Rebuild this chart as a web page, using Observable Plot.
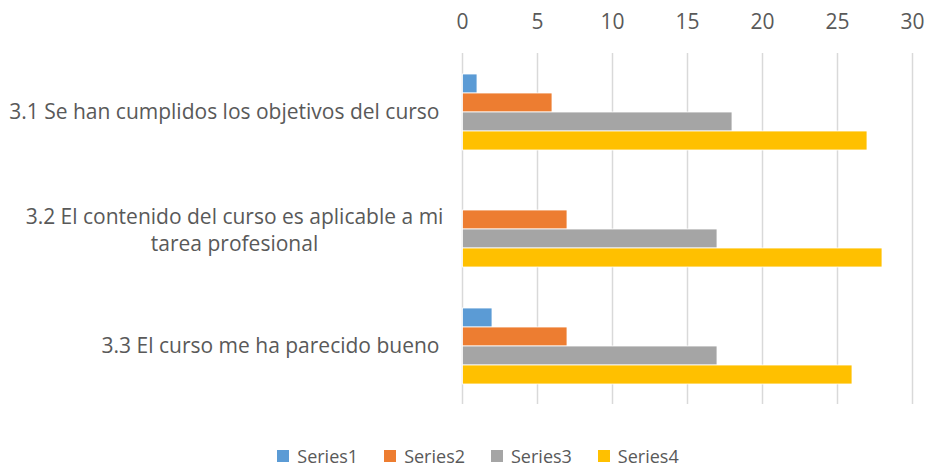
<!DOCTYPE html>
<html>
<head>
<meta charset="utf-8">
<script src="https://cdn.jsdelivr.net/npm/d3@7"></script>
<script src="https://cdn.jsdelivr.net/npm/@observablehq/plot@0.6"></script>
<style>
  html, body { margin: 0; padding: 0; background: #fff; }
  #chart { width: 930px; }
  .legend { display: flex; justify-content: center; align-items: center; font-family: "Open Sans", sans-serif; font-size: 18px; color: #595959; height: 50px; margin-top: 11px; padding-left: 26px; }
  .legend .item { display: flex; align-items: center; margin: 0 13px; }
  .legend .sw { width: 12px; height: 12px; margin-right: 8px; }
</style>
</head>
<body>
<div id="chart"></div>
<script>
const categories = [
  "3.1 Se han cumplidos los objetivos del curso",
  "3.2 El contenido del curso es aplicable a mi tarea profesional",
  "3.3 El curso me ha parecido bueno"
];
const categoryLines = [
  ["3.1 Se han cumplidos los objetivos del curso"],
  ["3.2 El contenido del curso es aplicable a mi", "tarea profesional"],
  ["3.3 El curso me ha parecido bueno"]
];
const seriesNames = ["Series1", "Series2", "Series3", "Series4"];
const colors = ["#5B9BD5", "#ED7D31", "#A5A5A5", "#FFC000"];
const series1 = [1, 0, 2];
const series2 = [6, 7, 7];
const series3 = [18, 17, 17];
const series4 = [27, 28, 26];
const xTicks = [0, 5, 10, 15, 20, 25, 30];

const allSeries = [series1, series2, series3, series4];
const rows = [];
categories.forEach((c, i) => {
  seriesNames.forEach((s, j) => rows.push({category: c, series: s, value: allSeries[j][i]}));
});
const labelRows = categories.map((c, i) => ({category: c, text: categoryLines[i].join("\n"), multi: categoryLines[i].length > 1}));

const plot = Plot.plot({
  width: 930,
  height: 420,
  marginTop: 52,
  marginBottom: 15,
  marginLeft: 462,
  marginRight: 18,
  style: {fontFamily: "'Open Sans', sans-serif", fontSize: "21px", color: "#595959", background: "#fff"},
  x: {domain: [0, 30], ticks: xTicks, axis: null},
  y: {domain: seriesNames, paddingInner: 0, paddingOuter: 0.95, axis: null},
  fy: {domain: categories, padding: 0, axis: null},
  color: {domain: seriesNames, range: colors},
  marks: [
    Plot.gridX(xTicks, {stroke: "#D9D9D9", strokeOpacity: 1, strokeWidth: 1.5}),
    Plot.axisX(xTicks, {anchor: "top", tickSize: 0, tickPadding: 25, label: null, fill: "#595959", fontSize: 21}),
    Plot.barX(rows, {fy: "category", y: "series", x: "value", fill: "series", stroke: "#fff", strokeWidth: 0.8, insetLeft: 0.5}),
    Plot.text(labelRows.filter(d => !d.multi), {fy: "category", text: "text", frameAnchor: "left", textAnchor: "end", dx: -23, fill: "#595959", fontSize: 21}),
    Plot.text(labelRows.filter(d => d.multi), {fy: "category", text: "text", frameAnchor: "left", textAnchor: "middle", dx: -228, lineHeight: 1.25, fill: "#595959", fontSize: 21})
  ]
});
document.getElementById("chart").appendChild(plot);

const legend = document.createElement("div");
legend.className = "legend";
seriesNames.forEach((s, i) => {
  const item = document.createElement("div");
  item.className = "item";
  const sw = document.createElement("span");
  sw.className = "sw";
  sw.style.background = colors[i];
  const t = document.createElement("span");
  t.textContent = s;
  item.appendChild(sw);
  item.appendChild(t);
  legend.appendChild(item);
});
document.getElementById("chart").appendChild(legend);
</script>
</body>
</html>
